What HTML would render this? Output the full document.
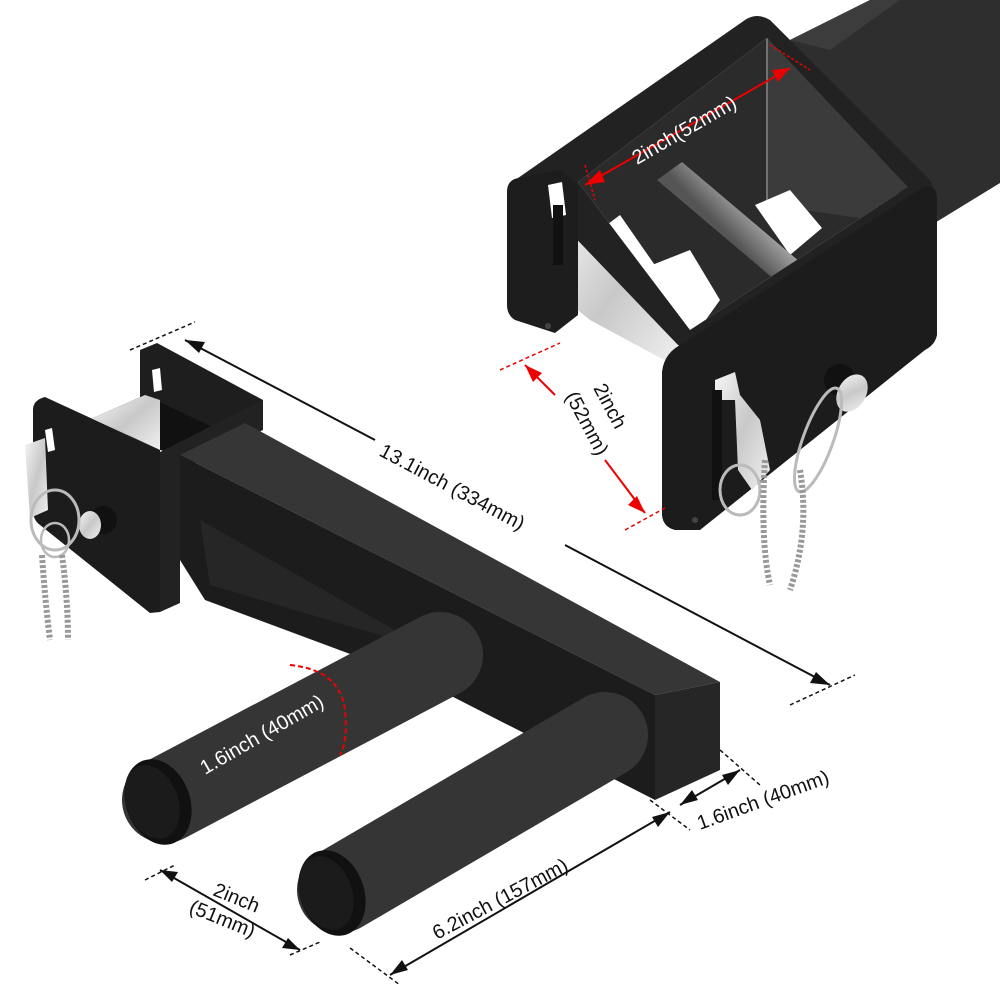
<!DOCTYPE html>
<html><head><meta charset="utf-8"><style>
html,body{margin:0;padding:0;background:#fff;}
svg{display:block}
text{font-family:"Liberation Sans",sans-serif;font-size:20px;fill:#111}
</style></head><body>
<svg width="1000" height="1000" viewBox="0 0 1000 1000" xmlns="http://www.w3.org/2000/svg">
<defs>
<linearGradient id="chrome" x1="0" y1="0" x2="1" y2="1">
<stop offset="0" stop-color="#f6f6f6"/><stop offset="0.5" stop-color="#c8c8c8"/><stop offset="1" stop-color="#f0f0f0"/></linearGradient>
<linearGradient id="rod" x1="0" y1="0" x2="1" y2="-0.8">
<stop offset="0" stop-color="#555"/><stop offset="0.4" stop-color="#f4f4f4"/><stop offset="0.7" stop-color="#999"/><stop offset="1" stop-color="#444"/></linearGradient>
</defs>

<!-- ===== Top right assembly ===== -->
<polygon points="790,40 870,0 1000,0 1000,183 920,232 860,120" fill="#2e2e2e"/>
<polygon points="790,40 870,0 900,0 830,50" fill="#3c3c3c"/>
<polygon points="578,182 767,38 908,187 690,330" fill="#2b2b2b"/>
<polygon points="767,38 908,187 860,218 767,205" fill="#3b3b3b"/>
<line x1="767" y1="38" x2="767" y2="205" stroke="#888" stroke-width="1.5"/>
<polygon points="755,205 790,190 822,228 790,255" fill="#fff"/>
<polygon points="652,265 690,250 720,300 695,335" fill="#fff"/>
<polygon points="620,215 700,330 690,345 600,230" fill="#fff"/>
<polygon points="657,180 682,162 800,262 775,280" fill="url(#rod)"/>
<polygon points="563,205 580,200 677,335 677,367 590,320 565,300" fill="url(#chrome)"/>
<path fill-rule="evenodd" fill="#222" d="M518,178 L745,20 Q757,12 770,20 L928,178 Q938,190 925,198 L700,345 Q688,352 678,345 Z M578,182 L690,330 L908,187 L767,38 Z"/>
<path d="M507,192 Q507,180 518,178 L560,170 L578,185 L578,315 L555,333 L515,320 Q507,315 507,305 Z" fill="#1d1d1d"/>
<polygon points="548,185 562,182 566,215 552,218" fill="#fff"/>
<rect x="553" y="205" width="10" height="60" fill="#111"/>
<circle cx="548" cy="326" r="3" fill="#444"/>
<path d="M662,372 Q664,352 684,343 L922,188 Q937,182 937,200 L937,335 Q935,345 925,350 L700,530 L675,530 Q663,527 662,515 Z" fill="#1c1c1c"/>
<polygon points="715,380 735,372 740,395 760,420 770,470 752,490 738,470 735,400 715,400" fill="url(#chrome)"/>
<rect x="712" y="390" width="10" height="110" fill="#111"/>
<circle cx="695" cy="520" r="3" fill="#444"/>
<circle cx="840" cy="380" r="16" fill="#111"/>
<ellipse cx="852" cy="393" rx="14" ry="20" fill="url(#chrome)" transform="rotate(30 852 393)"/>
<ellipse cx="818" cy="440" rx="15" ry="55" fill="none" stroke="#bbb" stroke-width="3" transform="rotate(20 818 440)"/>
<ellipse cx="740" cy="490" rx="20" ry="25" fill="none" stroke="#bbb" stroke-width="3"/>
<path d="M765,460 Q760,540 770,585 M800,470 Q810,530 790,590" stroke="#999" stroke-width="6" stroke-dasharray="3 2" fill="none"/>

<!-- dim 2inch(52mm) top -->
<line x1="585" y1="185" x2="790" y2="68" stroke="#e00" stroke-width="2"/>
<line x1="585" y1="165" x2="595" y2="200" stroke="#e00" stroke-width="1.5" stroke-dasharray="3 2"/>
<line x1="770" y1="45" x2="810" y2="70" stroke="#e00" stroke-width="1.5" stroke-dasharray="3 2"/>
<polygon points="585,185 600,170 605,182" fill="#e00"/><polygon points="790,68 772,70 778,82" fill="#e00"/>
<text transform="translate(637,165) rotate(-30)" style="fill:#fff">2inch(52mm)</text>
<!-- dim 2inch (52mm) red -->
<line x1="500" y1="370" x2="560" y2="343" stroke="#e00" stroke-width="1.5" stroke-dasharray="4 3"/>
<line x1="625" y1="530" x2="665" y2="508" stroke="#e00" stroke-width="1.5" stroke-dasharray="4 3"/>
<line x1="525" y1="365" x2="555" y2="395" stroke="#e00" stroke-width="2"/>
<line x1="605" y1="460" x2="645" y2="513" stroke="#e00" stroke-width="2"/>
<polygon points="525,365 542,373 533,382" fill="#e00"/><polygon points="645,513 628,505 637,496" fill="#e00"/>
<text transform="translate(593,388) rotate(62)">2inch</text>
<text transform="translate(565,396) rotate(62)">(52mm)</text>

<!-- ===== Left assembly ===== -->
<polygon points="140,350 157,343 263,400 263,420 240,440 140,400" fill="#1e1e1e"/>
<polygon points="152,370 160,368 162,390 154,392" fill="#fff"/>
<polygon points="93,418 145,395 240,440 180,455 160,450" fill="#111"/>
<polygon points="93,418 145,395 160,400 160,450" fill="url(#chrome)"/>
<polygon points="160,452 263,400 263,430 180,470 180,603 160,612" fill="#222"/>
<path d="M33,410 Q33,400 45,397 L160,450 L160,612 L150,613 L40,525 Q33,520 33,510 Z" fill="#1c1c1c"/>
<polygon points="45,430 52,428 55,450 48,452" fill="#fff"/>
<polygon points="25,445 45,438 48,510 30,518" fill="url(#chrome)"/>
<circle cx="103" cy="520" r="14" fill="#111"/>
<ellipse cx="90" cy="525" rx="11" ry="14" fill="url(#chrome)"/>
<ellipse cx="55" cy="520" rx="24" ry="30" fill="none" stroke="#bbb" stroke-width="3"/>
<ellipse cx="55" cy="540" rx="14" ry="17" fill="none" stroke="#bbb" stroke-width="2.5"/>
<path d="M42,555 Q45,600 50,640 M62,555 Q68,600 68,640" stroke="#999" stroke-width="6" stroke-dasharray="3 2" fill="none"/>
<polygon points="180,455 245,423 720,682 655,695" fill="#363636"/>
<polygon points="180,455 655,695 655,800 420,680 205,600 180,560" fill="#1c1c1c"/>
<polygon points="200,520 430,650 210,585" fill="#262626"/>
<polygon points="655,695 720,682 720,770 655,800" fill="#262626"/>
<line x1="165" y1="800" x2="440" y2="655" stroke="#353535" stroke-width="86" stroke-linecap="round"/>
<ellipse cx="158" cy="802" rx="32" ry="44" fill="#111" transform="rotate(-20 158 802)"/>
<ellipse cx="152" cy="802" rx="26" ry="38" fill="#1b1b1b" transform="rotate(-20 152 802)"/>
<line x1="340" y1="890" x2="605" y2="735" stroke="#353535" stroke-width="86" stroke-linecap="round"/>
<ellipse cx="332" cy="893" rx="32" ry="44" fill="#111" transform="rotate(-20 332 893)"/>
<ellipse cx="326" cy="893" rx="26" ry="38" fill="#1b1b1b" transform="rotate(-20 326 893)"/>
<path d="M290,665 Q340,670 345,710 Q348,740 340,755" stroke="#e00" stroke-width="2" stroke-dasharray="5 3" fill="none"/>
<text transform="translate(205,775) rotate(-30)" style="fill:#fff">1.6inch (40mm)</text>

<line x1="130" y1="350" x2="195" y2="322" stroke="#111" stroke-width="1.5" stroke-dasharray="4 3"/>
<line x1="790" y1="705" x2="855" y2="675" stroke="#111" stroke-width="1.5" stroke-dasharray="4 3"/>
<line x1="185" y1="340" x2="375" y2="440" stroke="#111" stroke-width="2"/>
<line x1="565" y1="545" x2="830" y2="685" stroke="#111" stroke-width="2"/>
<polygon points="185,340 205,342 199,353" fill="#111"/><polygon points="830,685 810,683 816,672" fill="#111"/>
<text transform="translate(378,455) rotate(28)">13.1inch (334mm)</text>
<line x1="720" y1="750" x2="760" y2="785" stroke="#111" stroke-width="1.5" stroke-dasharray="4 3"/>
<line x1="650" y1="800" x2="690" y2="830" stroke="#111" stroke-width="1.5" stroke-dasharray="4 3"/>
<line x1="680" y1="805" x2="740" y2="770" stroke="#111" stroke-width="2"/>
<polygon points="680,805 692,790 698,800" fill="#111"/><polygon points="740,770 728,785 722,775" fill="#111"/>
<text transform="translate(700,830) rotate(-20)">1.6inch (40mm)</text>
<line x1="350" y1="948" x2="400" y2="985" stroke="#111" stroke-width="1.5" stroke-dasharray="4 3"/>
<line x1="390" y1="975" x2="670" y2="812" stroke="#111" stroke-width="2"/>
<polygon points="390,975 402,960 408,970" fill="#111"/><polygon points="670,812 658,827 652,817" fill="#111"/>
<text transform="translate(437,940) rotate(-28)">6.2inch (157mm)</text>
<line x1="145" y1="880" x2="175" y2="865" stroke="#111" stroke-width="1.5" stroke-dasharray="4 3"/>
<line x1="290" y1="955" x2="320" y2="942" stroke="#111" stroke-width="1.5" stroke-dasharray="4 3"/>
<line x1="160" y1="870" x2="300" y2="950" stroke="#111" stroke-width="2"/>
<polygon points="160,870 178,872 172,882" fill="#111"/><polygon points="300,950 282,948 288,938" fill="#111"/>
<text transform="translate(212,895) rotate(22)">2inch</text>
<text transform="translate(188,912) rotate(22)">(51mm)</text>
</svg>
</body></html>
